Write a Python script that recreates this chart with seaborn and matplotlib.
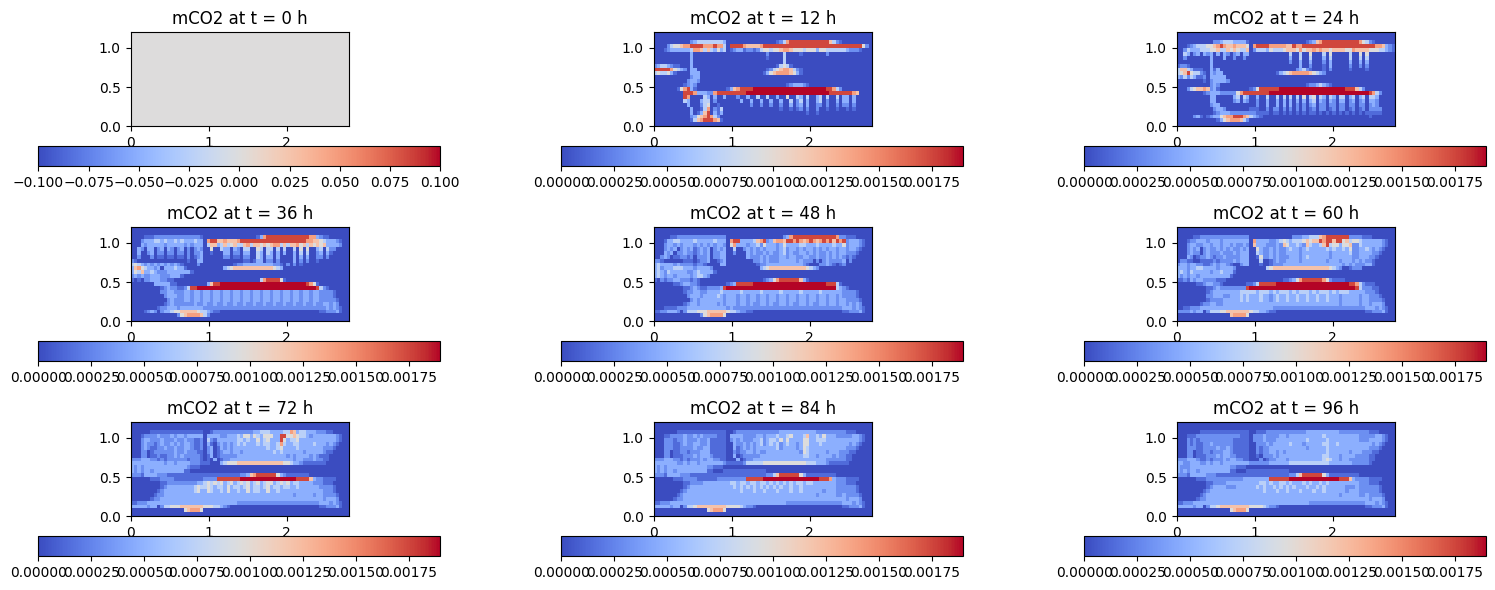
import matplotlib
matplotlib.use("Agg")
import matplotlib.pyplot as plt
import numpy as np
import seaborn as sns

level_values = [0.0, 0.00014, 0.00030, 0.00047, 0.00072, 0.00095, 0.00120, 0.00140, 0.00175, 0.0019]

hours = [0, 12, 24, 36, 48, 60, 72, 84, 96]
x_ticks = [0, 1, 2]
y_ticks = [0.0, 0.5, 1.0]
x_max = 2.8
y_max = 1.2
cbar_ticks = [0.0, 0.00025, 0.0005, 0.00075, 0.001, 0.00125, 0.0015, 0.00175]
cbar_ticks_first = [-0.1, -0.075, -0.05, -0.025, 0.0, 0.025, 0.05, 0.075, 0.1]
n_cols = 66
blank = "000000 000000 000000 000000 000000 000000 000000 000000 000000 000000 000000"

t12 = [
    blank,
    blank,
    "000000 000002 344444 444300 000000 000000 012478 888888 888886 421000 000000",
    "000024 556778 888777 877408 888766 667888 888888 888888 888888 888888 888520",
    "000123 333334 776464 353401 233122 124554 556776 555455 535544 444432 221000",
    "000000 000003 000000 000000 000000 000020 000400 001000 000020 000000 000000",
    "000000 000003 000000 000000 000000 000010 000400 000000 000000 000000 000000",
    "000000 000003 000000 000000 000000 000000 000400 000000 000000 000000 000000",
    "234432 110003 000000 000000 000000 000000 014541 000000 000000 000000 000000",
    "888887 543203 300000 000000 000000 000012 456776 421000 000000 000000 000000",
    "454453 100003 330000 000000 000000 000135 677776 531000 000000 000000 000000",
    "000000 000002 330000 000000 000000 000000 000000 000000 000000 000000 000000",
    "000000 000023 320000 000000 000000 000000 000000 000000 000000 000000 000000",
    "000000 000123 200000 000000 000000 000000 000012 333210 000000 000000 000000",
    "000000 015783 100000 000013 678888 999999 999999 999999 999988 742000 000000",
    "000000 000888 733322 788888 888899 999999 999999 999999 999998 888888 760000",
    "000000 000870 000430 300300 020030 040040 030050 043040 034040 040330 300000",
    "000000 000430 003440 200000 003003 003003 003004 024030 034020 030330 300000",
    "000000 000030 002450 010000 000002 002002 002003 023030 022020 020220 200000",
    "000000 000003 001470 214000 000000 000000 001001 012020 020010 010010 100000",
    "000000 000003 013680 313000 000000 000000 000000 000010 010000 000000 000000",
    "000000 000002 356787 420000 000000 000000 000000 000000 000000 000000 000000",
    "000000 000001 467888 761000 000000 000000 000000 000000 000000 000000 000000",
    blank,
]
t24 = [
    blank,
    blank,
    "000000 000002 234443 333100 000000 000000 000123 678888 888888 875421 000000",
    "000123 444556 787667 666507 888877 777668 778888 888888 888888 888888 776321",
    "002433 344455 644656 544602 444354 445666 575667 676656 666557 666655 544321",
    "004302 303230 303202 303300 000000 000040 040050 004050 000040 050500 000000",
    "002000 000030 003002 002000 000000 000030 040040 003040 000040 040400 000000",
    "000000 000030 000000 000000 000000 000020 030030 002030 000030 030300 000000",
    "122100 000030 000000 000000 000000 000000 030020 001030 000020 020200 000000",
    "466431 110031 300000 000000 000000 000000 234210 001020 000010 000100 000000",
    "456854 421032 330000 000000 000000 134567 777765 432000 000000 000000 000000",
    "324243 112033 333000 000000 000000 000000 000000 000000 000000 000000 000000",
    "000000 001023 333200 000000 000000 000000 000000 000000 000000 000000 000000",
    "000000 000023 200000 000000 000000 000000 000122 343210 000000 000000 000000",
    "000245 667623 100000 000012 588888 899999 999999 999999 999888 642000 000000",
    "000000 001233 322222 578888 888899 999999 999999 999999 999999 999987 420000",
    "000000 000033 000003 404300 300400 404040 405045 043043 044034 034044 300000",
    "000000 000033 000002 303200 200300 303030 303034 032032 033023 023033 200000",
    "000000 000023 300000 000000 200300 303030 202023 022022 022022 022023 200000",
    "000000 000002 332000 000011 100202 202020 202012 022012 022012 012022 220000",
    "000000 000001 233322 222222 111101 101010 101011 010101 010101 010111 110000",
    "000002 310123 356778 887643 210000 000000 000000 000000 000000 000010 000000",
    "000000 000000 135677 764200 000000 000000 000000 000000 000000 000000 000000",
    blank,
]
t36 = [
    blank,
    blank,
    "000011 122222 222222 222100 000000 000000 001378 888888 888888 773211 000000",
    "000233 344343 343433 343307 886676 667888 888888 888888 888887 766543 332100",
    "000323 333323 333323 233304 663464 564467 466565 677464 667564 656563 333200",
    "003203 302303 202302 023200 500433 032044 005404 404040 040505 003404 220000",
    "003002 302202 202202 022300 100033 022033 004304 303030 030404 002303 100000",
    "002000 201101 101102 012300 000022 011022 004303 303000 030303 002202 000000",
    "210000 000000 000001 003300 000000 000011 013302 202000 030202 001000 000000",
    "454323 232323 232100 002000 000000 012233 333333 322102 020100 000000 000000",
    "367543 323033 343310 000000 000034 566666 666666 654300 000000 000000 000000",
    "354633 432223 333333 100000 000000 000000 000000 000000 000000 000000 000000",
    "232322 333222 333100 000000 000000 000000 000000 000000 000000 000000 000000",
    "101022 333221 100000 000000 000000 000000 000478 888510 000000 000000 000000",
    "000000 033333 110000 000003 688999 999999 999999 999999 999998 751000 000000",
    "000000 000123 221124 889999 999999 999999 999999 999999 999999 998421 000000",
    "000000 000223 322233 233233 233233 233233 233233 233233 233233 233222 210000",
    "000000 000023 332233 233233 233233 233233 233233 233233 233233 233222 210000",
    "000000 000002 322233 233233 233233 233233 233233 233233 233233 233222 221000",
    "000000 000012 322222 232232 232232 232232 232232 232232 232232 232233 232000",
    "000000 001223 332333 333322 222222 222222 222222 222222 222222 222223 232100",
    "000012 320233 455666 665443 211000 000000 000000 000000 000000 000112 223100",
    "000000 000000 002567 777642 000000 000000 000000 000000 000000 000000 000000",
    blank,
]
t48 = [
    blank,
    blank,
    "000001 122222 222222 222200 000000 000000 000237 888888 888888 872211 100000",
    "000133 443333 433333 433307 883333 467823 677688 787678 767878 687823 332100",
    "000233 232333 232323 233205 733323 342533 323533 334433 343333 433523 332100",
    "000232 302323 123230 232300 400232 323233 323423 323233 232323 323323 321000",
    "000323 022322 123230 223300 200032 322323 223423 223323 232232 323322 210000",
    "002320 112212 022230 223300 000032 223232 223323 322332 232232 323212 100000",
    "221000 000111 012230 012300 000000 223232 223333 323222 020232 222302 000000",
    "343333 232222 122100 003300 000000 012233 333333 333210 002232 101200 000000",
    "342333 444333 233332 000000 000000 003456 666666 666654 320000 000000 000000",
    "343243 333322 343333 100000 000000 000000 000000 000000 000000 000000 000000",
    "343233 233332 344320 000000 000000 000000 000000 000000 000000 000000 000000",
    "102122 332221 210000 000000 000000 000123 578888 886310 000000 000000 000000",
    "000000 112332 210000 000012 388888 999999 999999 999999 999988 841000 000000",
    "000000 000112 321122 223899 999999 999999 999999 999999 999999 943210 000000",
    "000000 000122 332233 334333 334333 334333 334333 334333 334333 333222 210000",
    "000000 000023 332333 343233 323323 323323 323323 323323 323323 323222 210000",
    "000000 000002 323333 333233 323323 323323 323323 323323 323323 323322 221000",
    "000000 000123 323333 323233 323323 223323 223323 223323 223323 323323 232000",
    "000111 122233 333333 333323 222222 222222 222222 222222 222222 222333 232100",
    "112233 320244 455566 666654 432211 000000 000000 000000 000000 000112 223100",
    "000000 000000 002567 777500 000000 000000 000000 000000 000000 000000 000000",
    blank,
]
t60 = [
    blank,
    blank,
    "000001 122222 222222 222200 000000 000002 223344 467888 888822 221110 000000",
    "000122 333233 323333 333307 333322 345434 445656 687886 885645 543333 332100",
    "000233 223323 323323 223206 333222 326533 432643 346845 535562 243333 332100",
    "000232 302322 323232 232300 532232 322343 323433 333434 334352 233432 321000",
    "000232 202322 232223 233300 432232 322333 323333 333323 333342 233332 210000",
    "000320 122321 223222 233300 152232 322233 323433 333323 333332 233322 100000",
    "022110 011112 122223 233300 040012 322333 323333 333233 323332 323221 000000",
    "233233 221123 233210 023300 010012 223333 333333 333333 332323 222331 000000",
    "333233 443333 233332 000000 000456 666666 666666 666654 320012 220000 000000",
    "343243 333323 343331 000000 000000 000000 000000 000000 000000 000000 000000",
    "323233 233333 333310 000000 000000 000000 000000 000000 000000 000000 000000",
    "112132 332222 111000 000000 000000 001123 578888 887521 111000 000000 000000",
    "000000 112332 210000 000112 488888 999999 999999 999999 999988 742111 000000",
    "000000 000112 322222 222899 999999 999999 999999 999999 999999 842221 100000",
    "000000 000123 333333 344444 344434 344434 344434 344434 344433 333222 100000",
    "000000 000223 332233 343433 343323 433433 433433 433433 323333 323322 210000",
    "000000 000122 223333 343433 343323 433433 433433 433433 323333 323322 221000",
    "000000 012233 223333 333333 333333 333333 333333 333333 323333 323323 332000",
    "001122 233333 333333 333333 333332 222222 222222 222222 222222 222333 232100",
    "222232 330244 455666 666654 433211 000000 000000 000000 000000 000112 223100",
    "000000 000000 000067 777500 000000 000000 000000 000000 000000 000000 000000",
    blank,
]
t72 = [
    blank,
    blank,
    "000000 111111 111111 111100 122222 222222 233444 333344 763443 332221 100000",
    "000122 223222 323323 333303 333223 334355 354355 533885 565443 233333 332100",
    "000233 222322 232232 211204 213333 334434 335345 333853 445333 333333 332100",
    "000232 212322 323233 211203 102323 234343 334344 334743 344333 343332 321000",
    "000232 112232 232233 211202 301323 233333 333334 334533 334333 333322 210000",
    "000220 122222 232232 221102 301233 233233 333333 343433 333323 333321 100000",
    "000220 112112 232322 222101 301222 223333 333333 333332 323333 232111 000000",
    "222333 221212 222221 222101 030122 333333 333333 333333 323322 232211 000000",
    "333333 333323 323333 222111 000345 556666 666666 666655 433211 111110 000000",
    "323233 333333 333332 111000 000000 000000 000000 000000 000000 000000 000000",
    "323233 233333 333311 000000 000000 000000 000000 000000 000000 000000 000000",
    "222133 332221 111111 111111 111111 111223 678888 885321 111111 000000 000000",
    "000000 111222 211111 111122 228888 888999 999999 999999 998888 632211 110000",
    "000000 000112 222222 223345 454534 534545 345345 534545 344333 322211 100000",
    "000000 000123 333333 345445 434435 344345 344345 344344 334333 333222 210000",
    "000000 001233 333333 345335 433435 334335 344335 334333 333333 333322 210000",
    "000000 012233 333333 333333 333333 333333 333333 333333 323333 323322 221000",
    "000000 122333 333333 333333 333333 333333 333333 333333 333333 333323 332000",
    "112223 333333 333333 333333 333333 332222 222222 222222 222222 222333 232100",
    "333332 330244 555666 666655 544321 000000 000000 000000 000000 000112 223100",
    "000000 000000 000056 777500 000000 000000 000000 000000 000000 000000 000000",
    blank,
]
t84 = [
    blank,
    blank,
    "000000 011111 111111 111100 122222 222222 223333 333333 322222 222211 100000",
    "000112 222322 323222 211103 333222 233233 343345 333463 343533 322222 332100",
    "000222 122322 232231 111102 323222 334234 435353 333553 344433 333333 332100",
    "000222 112322 332231 111100 322323 234234 342343 323553 334333 333332 321000",
    "000222 112222 322331 111100 312323 233333 342333 323543 333333 333322 210000",
    "000220 112212 223331 111100 212233 232233 333333 332543 333323 332221 100000",
    "000220 111222 323332 111100 301222 223333 333333 333443 323333 232211 000000",
    "222333 221212 223233 221100 030122 333333 333333 333333 333322 222211 000000",
    "333333 322323 323333 333211 111244 444555 555555 555544 433321 111110 000000",
    "323233 333333 333322 111000 000000 000000 000000 000000 000000 000000 000000",
    "323233 233333 333311 000111 111111 111100 000000 000000 000000 000000 000000",
    "222133 332221 111111 111111 111111 111122 468888 885311 111111 100000 000000",
    "000000 111222 211111 122222 222288 888999 999999 999999 998887 322211 110000",
    "000000 000112 222333 333334 434434 434434 343434 344344 333333 322211 100000",
    "000000 000123 333333 333333 434343 434343 434334 334333 333333 322222 210000",
    "000000 001233 333333 333333 334333 433433 343334 334333 333233 322222 210000",
    "000000 012333 333333 333333 333333 333333 333333 333333 323333 322322 221000",
    "000000 122333 333333 333333 333333 333333 333333 333333 333333 333323 332000",
    "112223 333333 333333 333333 333333 333333 333322 222222 222222 222333 232100",
    "333332 330244 566666 666655 554322 100000 000000 000000 000000 000112 223100",
    "000000 000000 000056 777500 000000 000000 000000 000000 000000 000000 000000",
    blank,
]
t96 = [
    blank,
    blank,
    "000000 011111 111111 111100 111222 222222 222333 333333 322222 222211 100000",
    "000111 222222 222222 211102 223222 233233 333333 334333 333333 322222 332100",
    "000212 122222 222221 111102 223222 333333 333433 333433 333333 322233 332100",
    "000212 112232 222221 111100 222323 333343 332333 334433 433333 333332 321000",
    "000222 112222 322321 111100 212233 333333 333233 333433 333333 333322 210000",
    "000220 112212 223321 111100 212233 232333 333333 333433 333323 332221 100000",
    "000220 111222 323322 111100 102223 233333 333333 334433 323333 222211 000000",
    "222333 211212 223233 221100 020122 333233 333333 334543 323322 222211 000000",
    "332233 322323 323333 333322 222233 333344 444444 444433 333332 222210 000000",
    "322233 333333 333322 111000 000000 000000 000000 000000 000000 000000 000000",
    "323233 233333 333311 000111 111111 111100 000000 000000 000000 000000 000000",
    "222133 333222 111111 111111 111111 111122 468888 885311 111111 100000 000000",
    "000000 111222 222222 223333 333388 888899 999999 999999 988863 222211 110000",
    "000000 000112 222333 333333 344343 344343 334343 343433 333333 322211 100000",
    "000000 000123 333222 333333 434334 343434 333433 434333 333222 322222 210000",
    "000000 001233 333333 333333 334333 433433 343334 334333 333233 322222 210000",
    "000000 012333 333333 333333 333333 333333 333333 333333 323333 322322 221000",
    "000000 122333 333333 333333 333333 333333 333333 333333 333333 333323 332000",
    "112223 333333 333333 333333 333333 333333 333322 222222 222222 222333 232100",
    "333332 330244 566666 666655 554322 100000 000000 000000 000000 000112 223100",
    "000000 000000 000056 777500 000000 000000 000000 000000 000000 000000 000000",
    blank,
]
t0 = [blank] * len(t12)
panels = [t0, t12, t24, t36, t48, t60, t72, t84, t96]

def to_grid(rows):
    grid = []
    for row in rows:
        row = row.replace(" ", "").ljust(n_cols, "0")[:n_cols]
        grid.append([level_values[int(c)] for c in row])
    return np.array(grid)

W, H = 1495, 590
def box(x0, x1, y0, y1):
    return [x0 / W, 1 - y1 / H, (x1 - x0) / W, (y1 - y0) / H]

ax_left = [130.6, 653.6, 1176.6]
cbar_left = [38.3, 561.3, 1084.3]
ax_top = [32.3, 227.3, 422.3]

fig = plt.figure(figsize=(W / 100, H / 100), dpi=100)
for i, hour in enumerate(hours):
    row, col = divmod(i, 3)
    ax = fig.add_axes(box(ax_left[col], ax_left[col] + 218.5, ax_top[row], ax_top[row] + 94))
    cax = fig.add_axes(box(cbar_left[col], cbar_left[col] + 402, ax_top[row] + 114, ax_top[row] + 134))
    grid = to_grid(panels[i])
    vmin, vmax = (-0.1, 0.1) if i == 0 else (0.0, 0.0019)
    sns.heatmap(grid, ax=ax, cbar_ax=cax, cmap="coolwarm", vmin=vmin, vmax=vmax,
                xticklabels=False, yticklabels=False,
                cbar_kws={"orientation": "horizontal"})
    nrows, ncols = grid.shape
    ax.set_xticks([v / x_max * ncols for v in x_ticks])
    ax.set_xticklabels([str(v) for v in x_ticks], rotation=0)
    ax.set_yticks([(y_max - v) / y_max * nrows for v in y_ticks])
    ax.set_yticklabels([str(v) for v in y_ticks], rotation=0)
    ax.tick_params(length=3.5, width=0.8, labelsize=10)
    for spine in ax.spines.values():
        spine.set_visible(True)
        spine.set_linewidth(0.8)
    ax.set_title(f"mCO2 at t = {hour} h", fontsize=12)

    cb = ax.collections[0].colorbar
    ticks = cbar_ticks_first if i == 0 else cbar_ticks
    cb.set_ticks(ticks)
    labels = [f"{t:.3f}" if i == 0 else f"{t:.5f}" for t in ticks]
    cb.set_ticklabels([s.replace("-", "\u2212") for s in labels])
    cb.ax.tick_params(length=3.5, width=0.8, labelsize=10)
    cb.outline.set_visible(True)
    cb.outline.set_linewidth(0.8)

fig.savefig("out.png", dpi=100)
